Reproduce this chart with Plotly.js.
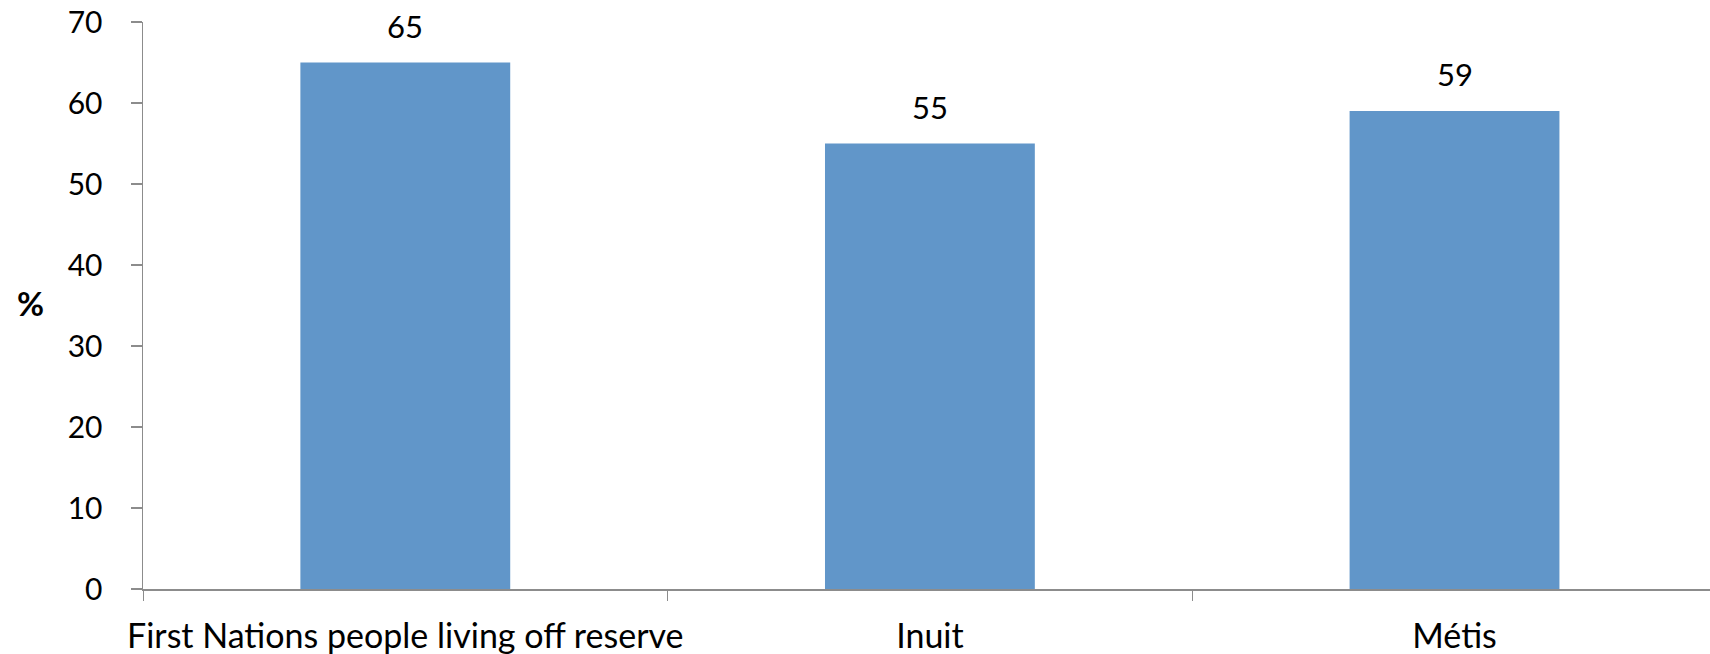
<!DOCTYPE html>
<html>
<head>
<meta charset="utf-8">
<script src="https://cdn.plot.ly/plotly-3.0.1.min.js"></script>
<style>html,body{margin:0;padding:0;overflow:hidden;background:#fff;}</style>
</head>
<body>
<div id="chart" style="width:1710px;height:654px;"></div>
<script>
const categories = ["First Nations people living off reserve", "Inuit", "Métis"];
const values = [65, 55, 59];
const yTickValues = [0, 10, 20, 30, 40, 50, 60, 70];
const yTitle = "%";

const fontFamily = "Lato, 'Open Sans', sans-serif";
const axisColor = "#8c8c8c";

const trace = {
  type: "bar",
  x: categories,
  y: values,
  marker: { color: "rgb(97,150,201)" },
  hoverinfo: "x+y"
};

const annotations = categories.map((c, i) => ({
  x: c, y: values[i], xref: "x", yref: "y",
  text: String(values[i]),
  showarrow: false, yanchor: "bottom", yshift: 16,
  font: { family: fontFamily, size: 31, color: "#000" }
}));
annotations.push({
  xref: "paper", yref: "paper", x: -0.0715, y: 0.505,
  xanchor: "center", yanchor: "middle", showarrow: false,
  text: "<b>" + yTitle + "</b>",
  font: { family: fontFamily, size: 33, color: "#000" }
});

const layout = {
  width: 1710, height: 654,
  margin: { l: 143, r: 0, t: 22, b: 65 },
  paper_bgcolor: "#fff", plot_bgcolor: "#fff",
  bargap: 0.6,
  showlegend: false,
  font: { family: fontFamily, size: 30, color: "#000" },
  xaxis: {
    type: "category",
    range: [-0.5, 2.487],
    showline: true, linecolor: axisColor, linewidth: 2,
    ticks: "outside", tickson: "boundaries", ticklen: 10, tickcolor: axisColor, tickwidth: 1,
    ticklabelstandoff: 16, tickangle: 0,
    tickfont: { family: fontFamily, size: 34, color: "#000" },
    showgrid: false, zeroline: false, fixedrange: true
  },
  yaxis: {
    range: [0, 70],
    tickvals: yTickValues,
    showline: true, linecolor: axisColor, linewidth: 1.5,
    ticks: "outside", ticklen: 11, tickcolor: axisColor, tickwidth: 1.5,
    ticklabelstandoff: 22,
    tickfont: { family: fontFamily, size: 30, color: "#000" },
    showgrid: false, zeroline: false, fixedrange: true
  },
  annotations: annotations
};

Plotly.newPlot("chart", [trace], layout, { displayModeBar: false, staticPlot: true });
</script>
</body>
</html>
